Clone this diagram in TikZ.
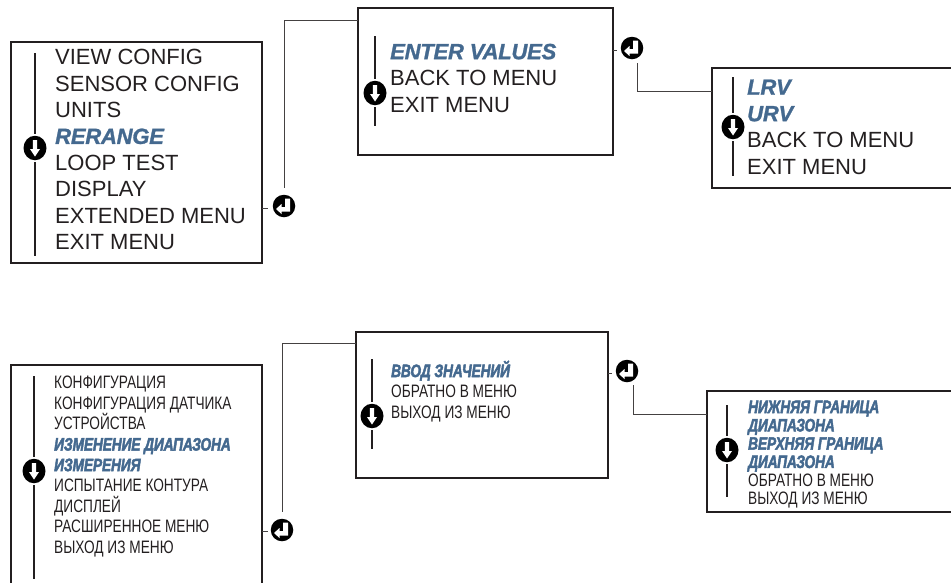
\documentclass[tikz,border=0pt]{standalone}
\usepackage{fontspec}
\setmainfont{Liberation Sans}
\newfontfamily\hlfont[LetterSpace=-1,FakeBold=1.2]{Liberation Sans}
\newfontfamily\narrowfont[FakeStretch=0.76]{Liberation Sans}
\newfontfamily\hlnarrowfont[FakeStretch=0.76,FakeBold=2.5,LetterSpace=-0.5]{Liberation Sans}
\usetikzlibrary{arrows.meta,positioning,calc,shapes.geometric}
\definecolor{hlblue}{HTML}{44698F}
\definecolor{inkgray}{HTML}{231F20}
\newcommand{\hl}[1]{{\color{hlblue}\hlfont\bfseries\itshape #1}}
\newcommand{\hlru}[1]{{\color{hlblue}\hlnarrowfont\bfseries\itshape #1}}

\begin{document}
\begin{tikzpicture}[
    x=1pt, y=-1pt,
    box/.style={draw=inkgray, line width=2pt, anchor=north west, inner sep=0pt, outer sep=0pt},
    menu/.style={anchor=north west, align=left, inner sep=0pt, text=inkgray, font=\fontsize{22}{26.45}\selectfont},
    menuru/.style 2 args={menu, font=\narrowfont\fontsize{#1}{#2}\selectfont},
    conn/.style={draw=inkgray!85, line width=1pt},
    rail/.style={draw=inkgray, line width=1.3pt},
    key/.style={ellipse, fill=black, inner sep=0pt, outer sep=0pt},
    downkey/.style={key, minimum width=23pt, minimum height=24.5pt, path picture={
        \fill[white] ($(path picture bounding box.center)+(-2.2,-8)$) -- ++(4.4,0) -- ++(0,9)
          -- ++(2.8,0) -- ++(-5,7.5) -- ++(-5,-7.5) -- ++(2.8,0) -- cycle;}},
    enterkey/.style={key, minimum width=22.5pt, minimum height=22.5pt, path picture={
        \fill[white] ($(path picture bounding box.center)+(1.2,-7.5)$) -- ++(5,0) -- ++(0,13)
          -- ++(-8.7,0) -- ++(0,2.5) -- ++(-5.5,-5) -- ++(5.5,-5) -- ++(0,3) -- ++(3.7,0) -- cycle;}},
  ]
  \useasboundingbox (0,0) rectangle (951,582);
  \clip (0,0) rectangle (951,582);

  % upper row
  \node[box, minimum width=251pt, minimum height=221pt] (cfg) at (11,42) {};
  \node[box, minimum width=255pt, minimum height=147pt] (ent) at (358,8) {};
  \node[box, minimum width=260pt, minimum height=120pt] (lim) at (712,68) {};
  \node[menu] (cfgtext) at (55,49) {VIEW CONFIG\\SENSOR CONFIG\\UNITS\\\hl{RERANGE}\\LOOP TEST\\DISPLAY\\EXTENDED MENU\\EXIT MENU};
  \node[menu] (enttext) at (390,43.6) {\hl{ENTER VALUES}\\BACK TO MENU\\EXIT MENU};
  \node[menu] (limtext) at (747,79.4) {\hl{LRV}\\\hl{URV}\\BACK TO MENU\\EXIT MENU};
  \node[downkey] (cfgkey) at (35,148) {};
  \node[downkey] (entkey) at (375,93) {};
  \node[downkey] (limkey) at (733,127) {};
  \node[enterkey] (cfgret) at (284,206) {};
  \node[enterkey] (entret) at (632,48) {};
  \coordinate (cfgtop) at (35,53);
  \coordinate (cfgend) at (35,256);
  \coordinate (enttop) at (375,36);
  \coordinate (entend) at (375,126);
  \coordinate (limtop) at (733,77);
  \coordinate (limend) at (733,176);
  \draw[rail] (cfgtop) -- ($(cfgkey.north)+(0,-2)$);
  \draw[rail] ($(cfgkey.south)+(0,2)$) -- (cfgend);
  \draw[rail] (enttop) -- ($(entkey.north)+(0,-2)$);
  \draw[rail] ($(entkey.south)+(0,2)$) -- (entend);
  \draw[rail] (limtop) -- ($(limkey.north)+(0,-2)$);
  \draw[rail] ($(limkey.south)+(0,2)$) -- (limend);
  % connectors between the screens
  \coordinate (cfgtap) at (262,208);
  \draw[conn] (cfgtap) -- ++(5.5,0);
  \coordinate (entin) at (358,20);
  \draw[conn] ($(cfgret.north)+(0,-7)$) |- (entin);
  \coordinate (enttap) at (613,50);
  \draw[conn] (enttap) -- ++(3.5,0);
  \coordinate (limin) at (712,91);
  \coordinate (limout) at (637.5,63);
  \draw[conn] (limout) |- (limin);

  % lower row
  \node[box, minimum width=251pt, minimum height=240pt] (cfgru) at (11,365) {};
  \node[box, minimum width=252pt, minimum height=146pt] (entru) at (356,332) {};
  \node[box, minimum width=260pt, minimum height=121pt] (limru) at (707,391) {};
  \node[menuru={18}{20.6}] (cfgrutext) at (54,376) {КОНФИГУРАЦИЯ\\КОНФИГУРАЦИЯ ДАТЧИКА\\УСТРОЙСТВА\\\hlru{ИЗМЕНЕНИЕ ДИАПАЗОНА}\\\hlru{ИЗМЕРЕНИЯ}\\ИСПЫТАНИЕ КОНТУРА\\ДИСПЛЕЙ\\РАСШИРЕННОЕ МЕНЮ\\ВЫХОД ИЗ МЕНЮ};
  \node[menuru={18}{20.6}] (entrutext) at (391,360.5) {\hlru{ВВОД ЗНАЧЕНИЙ}\\ОБРАТНО В МЕНЮ\\ВЫХОД ИЗ МЕНЮ};
  \node[menuru={18}{18.3}] (limrutext) at (748,400.5) {\hlru{НИЖНЯЯ ГРАНИЦА}\\\hlru{ДИАПАЗОНА}\\\hlru{ВЕРХНЯЯ ГРАНИЦА}\\\hlru{ДИАПАЗОНА}\\ОБРАТНО В МЕНЮ\\ВЫХОД ИЗ МЕНЮ};
  \node[downkey] (cfgrukey) at (34,471) {};
  \node[downkey] (entrukey) at (372,416) {};
  \node[downkey] (limrukey) at (727,450) {};
  \node[enterkey] (cfgruret) at (282,530) {};
  \node[enterkey] (entruret) at (627,371) {};
  \coordinate (cfgrutop) at (34,376);
  \coordinate (cfgruend) at (34,579);
  \coordinate (entrutop) at (372,359);
  \coordinate (entruend) at (372,449);
  \coordinate (limrutop) at (727,405);
  \coordinate (limruend) at (727,497);
  \draw[rail] (cfgrutop) -- ($(cfgrukey.north)+(0,-2)$);
  \draw[rail] ($(cfgrukey.south)+(0,2)$) -- (cfgruend);
  \draw[rail] (entrutop) -- ($(entrukey.north)+(0,-2)$);
  \draw[rail] ($(entrukey.south)+(0,2)$) -- (entruend);
  \draw[rail] (limrutop) -- ($(limrukey.north)+(0,-2)$);
  \draw[rail] ($(limrukey.south)+(0,2)$) -- (limruend);
  \coordinate (cfgrutap) at (262,531);
  \draw[conn] (cfgrutap) -- ++(5.5,0);
  \coordinate (entruin) at (356,343);
  \draw[conn] ($(cfgruret.north)+(0,-7)$) |- (entruin);
  \coordinate (entrutap) at (608,373);
  \draw[conn] (entrutap) -- ++(3.5,0);
  \coordinate (limruin) at (707,414);
  \coordinate (limruout) at (633,385);
  \draw[conn] (limruout) |- (limruin);
\end{tikzpicture}
\end{document}
